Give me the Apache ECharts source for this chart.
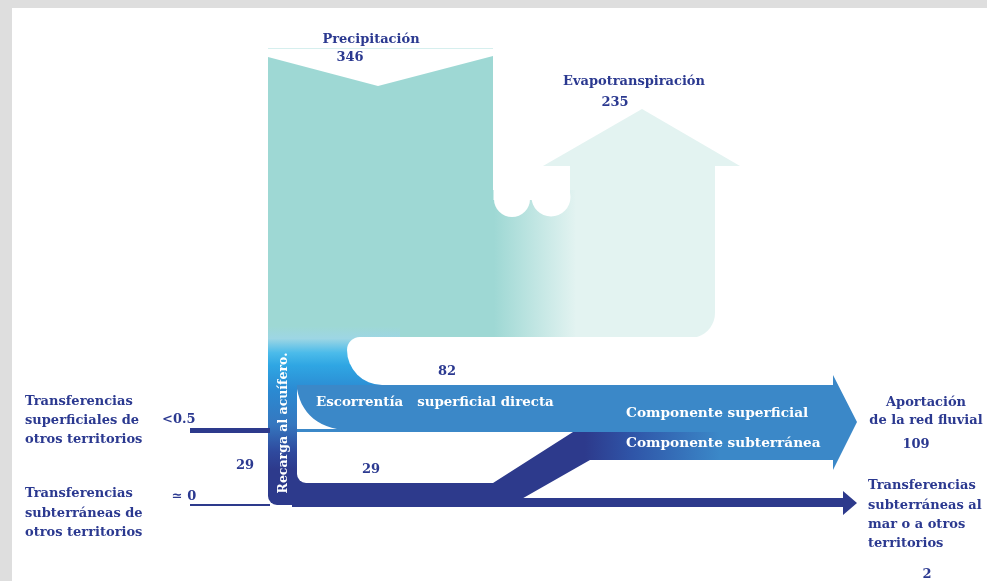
<!DOCTYPE html>
<html><head><meta charset="utf-8">
<script src="https://cdn.jsdelivr.net/npm/echarts@6/dist/echarts.min.js"></script>
<style>html,body{margin:0;padding:0;background:#fff}#c{width:987px;height:581px}</style>
</head><body><div id="c"></div>
<script>
// ---- DATA ----
const flowKeys   = ['precip','evap','escorrentia','recarga','subterranea','aportacion','transSup','transSub','transMar'];
const flowValues = [346, 235, 82, 29, 29, 109, 0.5, 0, 2];
const valueText  = ['346','235','82','29','29','109','<0.5','≃ 0','2'];
const flowTitles = [
  ['Precipitación'],
  ['Evapotranspiración'],
  ['Escorrentía   superficial directa'],
  ['Recarga al acuífero.'],
  ['Componente subterránea'],
  ['Aportación','de la red fluvial'],
  ['Transferencias','superficiales de','otros territorios'],
  ['Transferencias','subterráneas de','otros territorios'],
  ['Transferencias','subterráneas al','mar o a otros','territorios']
];
const componentTitles = ['Componente superficial','Componente subterránea'];

// ---- STYLE / LAYOUT ----
const C = {teal:'#9ed8d4', light:'#e3f3f1', blue:'#3b88c8', navy:'#2d3a8c', text:'#2b3990', white:'#ffffff'};
const FONT = 'bold 13px "DejaVu Serif", serif';
const FONT_W = 'bold 13.7px "DejaVu Serif", serif';
const FONT_E = 'bold 13.4px "DejaVu Serif", serif';
const FONT_V = 'bold 12.5px "DejaVu Serif", serif';

function arcPts(cx, cy, r, a0, a1, n) {
  const out = [];
  for (let k = 0; k <= n; k++) { const a = a0 + (a1 - a0) * k / n; out.push([cx + r * Math.cos(a), cy + r * Math.sin(a)]); }
  return out;
}
function quadPts(p0, c, p1, n) {
  const out = [];
  for (let k = 0; k <= n; k++) { const t = k / n, u = 1 - t;
    out.push([u*u*p0[0] + 2*u*t*c[0] + t*t*p1[0], u*u*p0[1] + 2*u*t*c[1] + t*t*p1[1]]); }
  return out;
}

function renderFlow(params, api) {
  const key = flowKeys[api.value(0)];
  const P = (x, y) => api.coord([x, y]);
  const poly = (pts, fill) => ({type:'polygon', shape:{points: pts.map(p => P(p[0], p[1]))}, style:{fill}});
  const rect = (x0, y0, x1, y1, fill, r) => { const a = P(x0, y0), b = P(x1, y1);
    return {type:'rect', shape:{x:a[0], y:a[1], width:b[0]-a[0], height:b[1]-a[1], r: r || 0}, style:{fill}}; };
  const circ = (x, y, r, fill) => { const a = P(x, y), b = P(x + r, y); return {type:'circle', shape:{cx:a[0], cy:a[1], r:b[0]-a[0]}, style:{fill}}; };
  const lg = (x0, y0, x1, y1, stops) => { const a = P(x0, y0), b = P(x1, y1);
    return new echarts.graphic.LinearGradient(a[0], a[1], b[0], b[1], stops.map(s => ({offset:s[0], color:s[1]})), true); };
  const ch = [];
  if (key === 'evap') {
    ch.push(poly([[543,166],[642,109],[740,166],[715,166],[715,260],[570,260],[570,166]], C.light));
  } else if (key === 'precip') {
    const pts = [[268,57],[378,86],[493,56],[493,190],[715,190]].concat(arcPts(690,313,25,0,Math.PI/2,10)).concat([[268,338]]);
    ch.push(poly(pts, lg(268,0,715,0,[[0,C.teal],[0.505,C.teal],[0.69,C.light],[1,C.light]])));
    ch.push(rect(493.5,186,570,200,C.white));
    ch.push(circ(512,199,18,C.white));
    ch.push(circ(551,197,19.5,C.white));
    ch.push(rect(268,48,493,49,'#d6efee'));
  } else if (key === 'recarga') {
    ch.push(rect(268,326,400,505, lg(0,326,0,505,[[0,C.teal],[0.07,'#9dd6e4'],[0.15,'#4bbbea'],[0.22,'#2fa6e3'],[0.36,'#2b8ad2'],[0.55,'#3577bf'],[0.7,'#2f4a9e'],[0.8,C.navy],[1,C.navy]]), [0,0,0,9]));
    // white gap between evapotranspiration body and surface runoff
    ch.push(rect(347,337,760,385,C.white,[14,0,0,38]));
  } else if (key === 'aportacion') {
    ch.push(poly([[297,385],[833,385],[833,375],[857,422],[833,470],[833,460],[583,460],[583,432],[297,432]], C.blue));
    // concave notch at the foot of the recharge column
    ch.push(poly(quadPts([297,389],[303,422],[337,429],12).concat([[297,429]]), C.white));
    // white space between runoff band and groundwater band
    ch.push(rect(297,432,584,483,C.white,[0,0,0,9]));
  } else if (key === 'subterranea') {
    ch.push(poly([[290,483],[493,483],[573,432],[590,432],[590,460],[511,505],[290,505]], C.navy));
    ch.push(rect(583,432,833,460, lg(585,0,720,0,[[0,C.navy],[0.35,'#2f55a8'],[1,C.blue]])));
  } else if (key === 'transSup') {
    ch.push(rect(190,428,270,433,C.navy));
  } else if (key === 'transSub') {
    ch.push(rect(190,504,270,506,C.navy));
  } else if (key === 'transMar') {
    ch.push(poly([[292,498],[843,498],[843,491],[857,503],[843,515],[843,507],[292,507]], C.navy));
  }
  return {type:'group', children: ch};
}

function renderText(params, api) {
  const P = (x, y) => api.coord([x, y]);
  const T = (s, x, y, align, fill, font, rot) => { const a = P(x, y);
    return {type:'text', x:a[0], y:a[1], rotation: rot || 0,
      style:{text:s, fill: fill || C.text, font: font || FONT, align: align || 'center', verticalAlign:'middle'}}; };
  const ch = [];
  const lines = (i, x, y0, dy, align) => flowTitles[i].forEach((s, k) => ch.push(T(s, x, y0 + k * dy, align)));
  lines(0, 371, 40, 0);            ch.push(T(valueText[0], 350, 58));
  lines(1, 634, 82, 0);            ch.push(T(valueText[1], 615, 103));
  ch.push(T(valueText[2], 447, 372));
  ch.push(T(flowTitles[2][0], 316, 403, 'left', C.white, FONT_E));
  ch.push(T(flowTitles[3][0], 284, 423, 'center', C.white, FONT_V, Math.PI/2));
  ch.push(T(valueText[3], 245, 466));
  ch.push(T(valueText[4], 371, 470));
  ch.push(T(componentTitles[0], 626, 413, 'left', C.white, FONT_W));
  ch.push(T(componentTitles[1], 626, 443, 'left', C.white, FONT_W));
  lines(5, 926, 403, 18);          ch.push(T(valueText[5], 916, 445));
  lines(6, 25, 402, 19, 'left');   ch.push(T(valueText[6], 162, 420, 'left'));
  lines(7, 25, 494, 19.5, 'left'); ch.push(T(valueText[7], 184, 497));
  lines(8, 868, 486, 19.3, 'left'); ch.push(T(valueText[8], 927, 575));
  return {type:'group', children: ch};
}

const drawOrder = ['evap','precip','recarga','aportacion','subterranea','transSup','transSub','transMar'].map(k => flowKeys.indexOf(k));

const chart = echarts.init(document.getElementById('c'));
chart.setOption({
  animation:false,
  backgroundColor:'#ffffff',
  graphic:[
    {type:'rect', shape:{x:0,y:0,width:12,height:581}, style:{fill:'#dedede'}, silent:true},
    {type:'rect', shape:{x:0,y:0,width:987,height:8}, style:{fill:'#dedede'}, silent:true}
  ],
  grid:{left:0,right:0,top:0,bottom:0},
  xAxis:{type:'value', min:0, max:987, show:false},
  yAxis:{type:'value', min:0, max:581, inverse:true, show:false},
  series:[
    {type:'custom', coordinateSystem:'cartesian2d', renderItem:renderFlow, data: drawOrder.map(i => [i, flowValues[i]]), silent:true, clip:false},
    {type:'custom', coordinateSystem:'cartesian2d', renderItem:renderText, data:[[0]], silent:true, clip:false, z:5}
  ]
});
</script></body></html>
